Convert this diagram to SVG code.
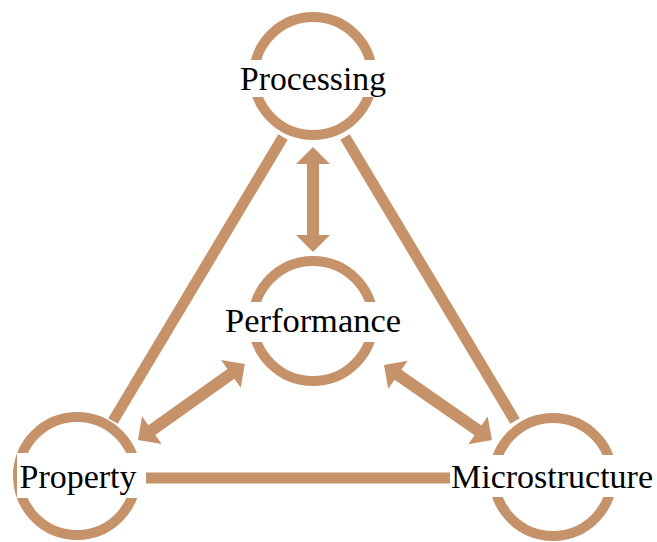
<svg xmlns="http://www.w3.org/2000/svg" width="657" height="542" viewBox="0 0 657 542">
<style>
.ring{fill:none;stroke:#C6926A;stroke-width:10}
.line{stroke:#C6926A;stroke-width:11;fill:none}
.arrow{fill:#C6926A}
.bg{fill:#fff}
.lbl{font-family:"Liberation Serif","Times New Roman",serif;font-size:33px;fill:#000;text-anchor:middle}
</style>
<rect width="657" height="542" fill="#fff"/>
<g id="connectors">
<line class="line" x1="283" y1="137" x2="113" y2="421"/>
<line class="line" x1="345" y1="137" x2="515" y2="421"/>
<line class="line" x1="146" y1="478" x2="450" y2="478"/>
<polygon class="arrow" transform="translate(313,147) rotate(90)" points="0,0 17,-17 17,-6 88,-6 88,-17 105,0 88,17 88,6 17,6 17,17"/>
<polygon class="arrow" transform="translate(138,440) rotate(-35.4)" points="0,0 17,-17 17,-6 114,-6 114,-17 131,0 114,17 114,6 17,6 17,17"/>
<polygon class="arrow" transform="translate(384,365) rotate(34.8)" points="0,0 17,-17 17,-6 114.5,-6 114.5,-17 131.5,0 114.5,17 114.5,6 17,6 17,17"/>
</g>
<g id="processing">
<circle class="ring" cx="313" cy="76" r="59"/>
<rect class="bg" x="240" y="60" width="148" height="37"/>
<text class="lbl" x="313" y="90" textLength="146" lengthAdjust="spacingAndGlyphs">Processing</text>
</g>
<g id="performance">
<circle class="ring" cx="313" cy="321" r="60"/>
<rect class="bg" x="224" y="302" width="179" height="40"/>
<text class="lbl" x="313" y="332" textLength="176" lengthAdjust="spacingAndGlyphs">Performance</text>
</g>
<g id="property">
<circle class="ring" cx="77" cy="476" r="59"/>
<rect class="bg" x="17" y="453" width="124" height="45"/>
<text class="lbl" x="78" y="488" textLength="117" lengthAdjust="spacingAndGlyphs">Property</text>
</g>
<g id="microstructure">
<circle class="ring" cx="553" cy="477" r="59"/>
<rect class="bg" x="450" y="455" width="206" height="42"/>
<text class="lbl" x="552" y="488" textLength="202" lengthAdjust="spacingAndGlyphs">Microstructure</text>
</g>
</svg>
